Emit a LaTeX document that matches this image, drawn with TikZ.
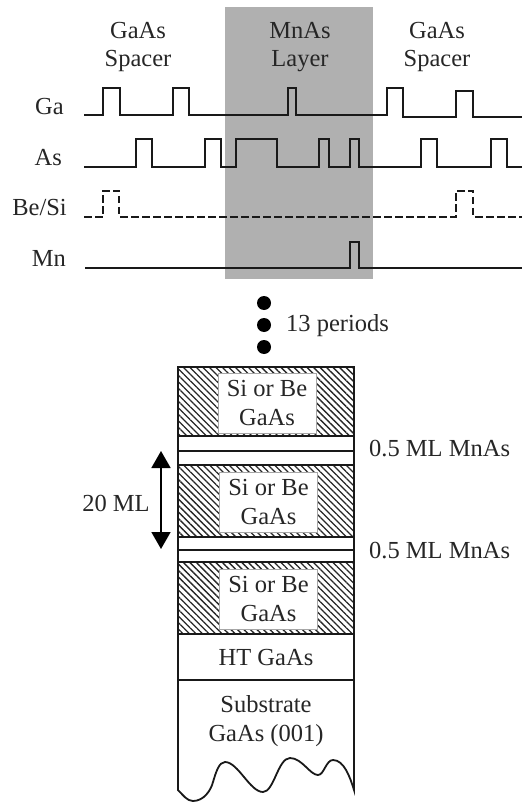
\documentclass[tikz,border=0pt]{standalone}
\usepackage{fontspec}
\setmainfont{Liberation Serif}
\usetikzlibrary{patterns.meta,arrows.meta}
\tikzset{
  lbl/.style={inner sep=0pt,font=\fontsize{24.5}{28.5}\selectfont,text=black!85,align=center},
  wave/.style={line width=1.8pt,line join=miter,black!90},
  wavedash/.style={wave,dash pattern=on 7.5pt off 3.5pt},
  layer/.style={line width=1.8pt,draw=black!90},
  hatched/.style={layer,pattern={Lines[angle=-45,distance=4.6pt,line width=1.3pt]},pattern color=black!85},
  inbox/.style={fill=white,draw=black!35,line width=0.6pt,minimum width=98pt,minimum height=60pt,inner sep=0pt,font=\fontsize{24.5}{28.5}\selectfont,text=black!85,align=center},
  dotmark/.style={circle,fill=black,inner sep=0pt,minimum size=14pt}
}
\begin{document}
\begin{tikzpicture}[x=1pt,y=-1pt]
\useasboundingbox (0,0) rectangle (522,802);
\fill[black!31] (225,7) rectangle (373,279);
% headers
\node[lbl] (h1) at (138,47) {GaAs\\Spacer};
\node[lbl] (h2) at (300,47) {MnAs\\Layer};
\node[lbl] (h3) at (437,47) {GaAs\\Spacer};
\node[lbl,anchor=east] (ga) at (64,107) {Ga};
\node[lbl,anchor=east] (as) at (62,158) {As};
\node[lbl,anchor=east] (be) at (67,208) {Be/Si};
\node[lbl,anchor=east] (mn) at (66,258) {Mn};
% waveforms
\draw[wave] (84,115) -| (103,88) -| (120,115) -| (173,88) -| (189,115) -| (288,88) -| (296,115) -| (387,88) -| (403,117) -| (456,91) -| (473,117) -- (522,117);
\draw[wave] (84,167) -| (136,139) -| (152,167) -| (205,139) -| (221,167) -| (236,139) -| (277,167) -| (319,139) -| (329,167) -| (350,139) -| (359,167) -| (421,139) -| (437,167) -| (491,139) -| (507,167) -- (522,167);
\draw[wavedash] (84,217) -| (103,191) -| (119,217) -| (456,191) -| (473,217) -- (522,217);
\draw[wave] (85,268) -| (350,242) -| (359,268) -- (522,268);
% dots
\node[dotmark] (d1) at (264,303) {};
\node[dotmark] (d2) at (264,325) {};
\node[dotmark] (d3) at (264,347) {};
\node[lbl,anchor=west] (per) at (286,326) {13 periods};
% layers
\draw[hatched] (178,367) rectangle (354,436);
\draw[layer,fill=white] (178,436) rectangle (354,451);
\draw[layer,fill=white] (178,451) rectangle (354,465);
\draw[hatched] (178,465) rectangle (354,537);
\draw[layer,fill=white] (178,537) rectangle (354,550);
\draw[layer,fill=white] (178,550) rectangle (354,562);
\draw[hatched] (178,562) rectangle (354,634);
\draw[layer,fill=white] (178,634) rectangle (354,680);
\draw[layer,fill=white] (178,680) -- (178,790) .. controls (183,795) and (187,801) .. (193,801)
  .. controls (204,801) and (211,790) .. (213,782)
  .. controls (216,772) and (219,762) .. (225,762)
  .. controls (238,762) and (250,792) .. (263,792)
  .. controls (274,792) and (278,758) .. (290,758)
  .. controls (302,758) and (310,775) .. (318,775)
  .. controls (324,775) and (326,760) .. (333,760)
  .. controls (344,760) and (350,777) .. (354,790) -- (354,680) -- cycle;
\node[inbox] (b1) at (267,403) {Si or Be\\GaAs};
\node[inbox] (b2) at (268.5,502) {Si or Be\\GaAs};
\node[inbox] (b3) at (268.5,599) {Si or Be\\GaAs};
\node[lbl] (ht) at (266,658) {HT GaAs};
\node[lbl] (sub) at (266,721) {Substrate\\GaAs (001)};
\node[lbl,anchor=west] (m1) at (369,449) {0.5 ML MnAs};
\node[lbl,anchor=west] (m2) at (369,551) {0.5 ML MnAs};
\node[lbl] (ml) at (116,503) {20 ML};
\coordinate (at) at (161,451);
\coordinate (ab) at (161,549);
\draw[line width=1.8pt,black,{Triangle[length=17pt,width=19pt]}-{Triangle[length=17pt,width=19pt]}] (at) -- (ab);
\end{tikzpicture}
\end{document}
